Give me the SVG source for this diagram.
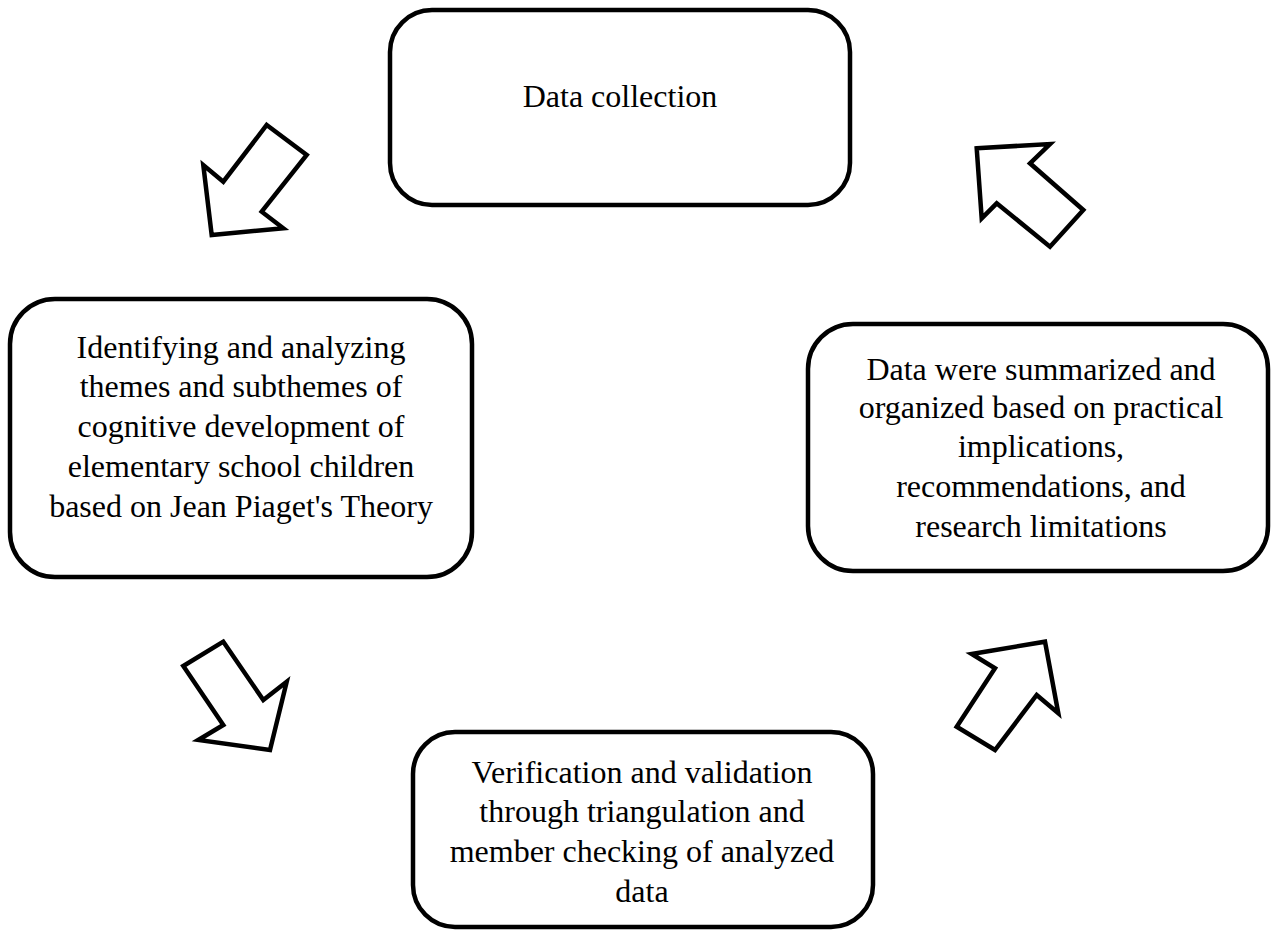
<svg xmlns="http://www.w3.org/2000/svg" width="1271" height="930" viewBox="0 0 1271 930">
<style>
.box{fill:#fff;stroke:#000;stroke-width:4.5}
.arrow{fill:#fff;stroke:#000;stroke-width:4.5;stroke-linejoin:miter}
text{font-family:"Liberation Serif","Times New Roman",serif;font-size:32px;fill:#000;text-anchor:middle}
</style>
<rect width="1271" height="930" fill="#fff"/>
<g id="connectors">
<polygon class="arrow" points="266.7,125 306.7,155 261.7,211.7 283.3,228.3 211.7,235 203.3,165 223.3,181.7"/>
<polygon class="arrow" points="976.7,148.3 1050,144 1030,163.3 1083.3,210 1050,246.7 996.7,203.3 981.7,218.3"/>
<polygon class="arrow" points="223.3,641.7 183.3,666 223.3,725 198.3,740 270,750 286.7,681.7 263.3,700"/>
<polygon class="arrow" points="971.7,654 1045,641.7 1058.3,713.3 1036.7,695 995,750 956.7,726.7 995,668.3"/>
</g>
<g id="node-data-collection">
<rect class="box" x="390" y="10" width="460" height="195" rx="42"/>
<text x="620" y="107">Data collection</text>
</g>
<g id="node-identifying">
<rect class="box" x="10" y="299" width="462" height="278" rx="45"/>
<text x="241" y="358">Identifying and analyzing</text>
<text x="241" y="397">themes and subthemes of</text>
<text x="241" y="437">cognitive development of</text>
<text x="241" y="477">elementary school children</text>
<text x="241" y="517">based on Jean Piaget's Theory</text>
</g>
<g id="node-summarized">
<rect class="box" x="808" y="324" width="460" height="247" rx="45"/>
<text x="1041" y="380">Data were summarized and</text>
<text x="1041" y="418">organized based on practical</text>
<text x="1041" y="457">implications,</text>
<text x="1041" y="497">recommendations, and</text>
<text x="1041" y="537">research limitations</text>
</g>
<g id="node-verification">
<rect class="box" x="413" y="732" width="460" height="195" rx="42"/>
<text x="642" y="783">Verification and validation</text>
<text x="642" y="822">through triangulation and</text>
<text x="642" y="862">member checking of analyzed</text>
<text x="642" y="902">data</text>
</g>
</svg>
